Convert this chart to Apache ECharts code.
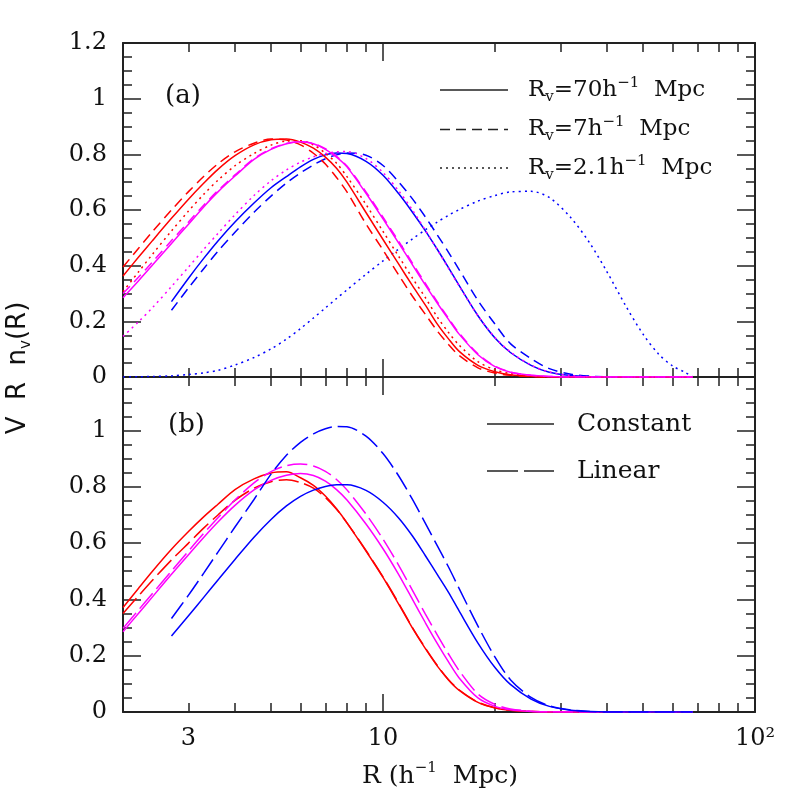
<!DOCTYPE html>
<html>
<head>
<meta charset="utf-8">
<script src="https://cdn.jsdelivr.net/npm/echarts@6/dist/echarts.min.js"></script>
<style>
html,body{margin:0;padding:0;background:#fff}
#chart{width:797px;height:797px}
</style>
</head>
<body>
<div id="chart"></div>
<script>
// shared radius grid (h^-1 Mpc)
var R = [2, 2.2, 2.4, 2.7, 3, 3.3, 3.6, 4, 4.5, 5, 5.5, 6, 6.5, 7, 7.5, 8, 9, 10, 11, 12,
         13, 14, 15, 16, 18, 20, 22, 25, 28, 32, 36, 40, 45, 50, 55, 60, 65, 68];

// panel (a)
var aRedSolid  = [0.363,0.43,0.49,0.57,0.639,0.697,0.746,0.795,0.834,0.852,0.855,0.844,0.822,0.79,0.75,0.70,0.591,0.494,0.407,0.328,0.258,0.19,0.137,0.093,0.042,0.019,0.008,0.002,0,0,0,0,0,0,0,0,0,0];
var aRedDash   = [0.395,0.462,0.522,0.60,0.666,0.721,0.766,0.809,0.84,0.855,0.851,0.834,0.804,0.765,0.717,0.665,0.55,0.456,0.368,0.29,0.225,0.165,0.117,0.078,0.033,0.014,0.006,0.0015,0,0,0,0,0,0,0,0,0,0];
var aRedDot    = [0.307,0.377,0.441,0.525,0.596,0.657,0.707,0.759,0.803,0.833,0.848,0.849,0.834,0.804,0.768,0.72,0.62,0.523,0.435,0.355,0.285,0.215,0.16,0.115,0.055,0.026,0.012,0.004,0.001,0,0,0,0,0,0,0,0,0];
var aMagSolid  = [0.285,0.345,0.402,0.48,0.549,0.612,0.665,0.722,0.782,0.818,0.838,0.845,0.838,0.818,0.79,0.755,0.66,0.568,0.483,0.403,0.33,0.265,0.207,0.155,0.08,0.037,0.017,0.006,0.002,0,0,0,0,0,0,0,0,0];
var aMagDash   = [0.30,0.358,0.413,0.49,0.557,0.618,0.67,0.726,0.785,0.82,0.839,0.845,0.839,0.82,0.793,0.758,0.665,0.574,0.489,0.409,0.336,0.27,0.211,0.159,0.083,0.039,0.018,0.006,0.002,0,0,0,0,0,0,0,0,0];
var aMagDot    = [0.146,0.198,0.249,0.325,0.395,0.459,0.516,0.583,0.652,0.705,0.744,0.772,0.791,0.803,0.809,0.81,0.785,0.735,0.67,0.60,0.527,0.457,0.39,0.328,0.22,0.142,0.09,0.043,0.018,0.005,0.001,0,0,0,0,0,0,0];
var aBlueSolid = [null,null,null,0.271,0.355,0.427,0.489,0.557,0.625,0.68,0.72,0.755,0.782,0.798,0.805,0.803,0.775,0.725,0.66,0.592,0.525,0.458,0.393,0.33,0.22,0.14,0.088,0.042,0.017,0.005,0.001,0,0,0,0,0,0,0];
var aBlueDash  = [null,null,null,0.24,0.32,0.39,0.452,0.52,0.592,0.65,0.697,0.733,0.762,0.784,0.798,0.805,0.797,0.76,0.702,0.64,0.575,0.51,0.448,0.387,0.275,0.19,0.12,0.066,0.03,0.01,0.003,0.001,0,0,0,0,0,0];
var aBlueDot   = [0,0.001,0.002,0.004,0.009,0.015,0.024,0.043,0.07,0.101,0.136,0.174,0.212,0.248,0.282,0.313,0.369,0.417,0.459,0.496,0.529,0.557,0.581,0.601,0.632,0.652,0.665,0.667,0.645,0.572,0.48,0.378,0.254,0.154,0.083,0.04,0.016,0];

// panel (b)
var bRedSolid  = [0.371,0.439,0.5,0.578,0.641,0.694,0.738,0.79,0.828,0.849,0.853,0.832,0.805,0.767,0.722,0.672,0.572,0.478,0.385,0.298,0.225,0.163,0.114,0.078,0.034,0.014,0.006,0.0015,0,0,0,0,0,0,0,0,0,0];
var bRedDash   = [0.35,0.412,0.468,0.54,0.6,0.654,0.70,0.752,0.795,0.818,0.825,0.815,0.795,0.762,0.72,0.672,0.574,0.48,0.388,0.30,0.227,0.165,0.115,0.079,0.035,0.015,0.006,0.0015,0,0,0,0,0,0,0,0,0,0];
var bMagSolid  = [0.285,0.35,0.409,0.489,0.559,0.621,0.675,0.734,0.789,0.823,0.841,0.847,0.84,0.82,0.79,0.753,0.668,0.58,0.49,0.40,0.317,0.243,0.178,0.122,0.05,0.02,0.008,0.002,0,0,0,0,0,0,0,0,0,0];
var bMagDash   = [0.297,0.362,0.421,0.501,0.572,0.635,0.69,0.753,0.814,0.854,0.875,0.881,0.874,0.855,0.826,0.789,0.703,0.614,0.523,0.432,0.348,0.273,0.206,0.148,0.064,0.027,0.011,0.003,0.001,0,0,0,0,0,0,0,0,0];
var bBlueSolid = [null,null,null,0.27,0.342,0.408,0.469,0.542,0.621,0.684,0.732,0.766,0.788,0.801,0.807,0.807,0.787,0.745,0.69,0.625,0.555,0.488,0.425,0.36,0.245,0.158,0.098,0.046,0.02,0.006,0.0015,0,0,0,0,0,0,0];
var bBlueDash  = [null,null,null,0.332,0.415,0.494,0.568,0.657,0.755,0.845,0.912,0.958,0.988,1.006,1.014,1.013,0.98,0.918,0.84,0.755,0.67,0.59,0.515,0.44,0.305,0.195,0.115,0.052,0.022,0.007,0.002,0,0,0,0,0,0,0];

// ticks
var xMajorTicks = [10, 100];
var xMinorTicks = [3, 4, 5, 6, 7, 8, 9, 20, 30, 40, 50, 60, 70, 80, 90];
var xTickLabels = [3, 10, 100];

var AX = '#222';
var SERIF = '"DejaVu Serif", serif';
var SANS = '"DejaVu Sans", sans-serif';
var SOLID = 'solid', DASH = [10, 6], DOT = [2, 4], LONG = [20, 6];

function pairs(vals) {
    return R.map(function (r, i) { return [r, vals[i]]; })
            .filter(function (p) { return p[1] != null; });
}

function xAx(grid, pos, ticks, len, lineShow, labels) {
    return {
        type: 'log', logBase: 10, gridIndex: grid, position: pos, min: 2, max: 100,
        axisLine: {show: lineShow, onZero: false, lineStyle: {color: AX, width: 2}},
        axisTick: {show: true, inside: true, length: len, customValues: ticks,
                   lineStyle: {color: AX, width: 1.5}},
        axisLabel: labels ? {
            show: true, customValues: xTickLabels, margin: 15,
            color: '#111', fontFamily: SERIF, fontSize: 24,
            formatter: function (v) { return v == 100 ? '10\u00b2' : String(v); }
        } : {show: false},
        splitLine: {show: false}
    };
}

function yAx(grid, pos, max, interval, len, lineShow, labels) {
    return {
        type: 'value', gridIndex: grid, position: pos, min: 0, max: max, interval: interval,
        axisLine: {show: lineShow, onZero: false, lineStyle: {color: AX, width: 2}},
        axisTick: {show: true, inside: true, length: len, lineStyle: {color: AX, width: 1.5}},
        axisLabel: labels ? {
            show: true, margin: 16, color: '#111', fontFamily: SERIF, fontSize: 24,
            showMaxLabel: grid === 0
        } : {show: false},
        splitLine: {show: false}
    };
}

function line(xi, vals, color, type) {
    return {
        type: 'line', xAxisIndex: xi, yAxisIndex: xi, data: pairs(vals),
        symbol: 'none', smooth: 0.3, silent: true,
        lineStyle: {color: color, width: 1.5, type: type},
        itemStyle: {color: color}
    };
}

var RED = '#ff0000', MAG = '#ff00ff', BLUE = '#0000ff';

var xAxes = [
    xAx(0, 'bottom', xMajorTicks, 18, true, false),
    xAx(0, 'bottom', xMinorTicks, 9, false, false),
    xAx(0, 'top', xMajorTicks, 18, true, false),
    xAx(0, 'top', xMinorTicks, 9, false, false),
    xAx(1, 'bottom', xMajorTicks, 18, true, true),
    xAx(1, 'bottom', xMinorTicks, 9, false, false),
    xAx(1, 'top', xMajorTicks, 18, true, false),
    xAx(1, 'top', xMinorTicks, 9, false, false)
];
var yAxes = [
    yAx(0, 'left', 1.2, 0.2, 18, true, true),
    yAx(0, 'left', 1.2, 0.05, 9, false, false),
    yAx(0, 'right', 1.2, 0.2, 18, true, false),
    yAx(0, 'right', 1.2, 0.05, 9, false, false),
    yAx(1, 'left', 1.19, 0.2, 18, true, true),
    yAx(1, 'left', 1.19, 0.05, 9, false, false),
    yAx(1, 'right', 1.19, 0.2, 18, true, false),
    yAx(1, 'right', 1.19, 0.05, 9, false, false)
];

function rich(size, family) {
    return {
        m: {fontFamily: family, fontSize: size, lineHeight: size + 6, fill: '#111'},
        s: {fontFamily: family, fontSize: 15, lineHeight: 15, verticalAlign: 'bottom', fill: '#111'},
        p: {fontFamily: family, fontSize: 15, lineHeight: 15, verticalAlign: 'top', fill: '#111'}
    };
}

function txt(x, y, text, size, align, family, rotation) {
    return {
        type: 'text', x: x, y: y, silent: true, rotation: rotation || 0,
        style: {text: text, rich: rich(size, family || SERIF), fill: '#111',
                align: align, textAlign: align, verticalAlign: 'middle', textVerticalAlign: 'middle'}
    };
}

function seg(x1, x2, y, dash) {
    return {type: 'line', silent: true, shape: {x1: x1, y1: y, x2: x2, y2: y},
            style: {stroke: '#222', lineWidth: 1.5, lineDash: dash}};
}

var chart = echarts.init(document.getElementById('chart'), null, {renderer: 'canvas'});
chart.setOption({
    animation: false,
    backgroundColor: '#fff',
    grid: [
        {left: 123, top: 43, width: 632, height: 334},
        {left: 123, top: 377, width: 632, height: 335}
    ],
    xAxis: xAxes,
    yAxis: yAxes,
    series: [
        line(0, aBlueSolid, BLUE, SOLID),
        line(0, aBlueDash, BLUE, DASH),
        line(0, aBlueDot, BLUE, DOT),
        line(0, aRedSolid, RED, SOLID),
        line(0, aRedDash, RED, DASH),
        line(0, aRedDot, RED, DOT),
        line(0, aMagSolid, MAG, SOLID),
        line(0, aMagDash, MAG, DASH),
        line(0, aMagDot, MAG, DOT),
        line(4, bRedSolid, RED, SOLID),
        line(4, bRedDash, RED, LONG),
        line(4, bMagSolid, MAG, SOLID),
        line(4, bMagDash, MAG, LONG),
        line(4, bBlueSolid, BLUE, SOLID),
        line(4, bBlueDash, BLUE, LONG)
    ],
    graphic: [
        seg(440, 508, 90, null),
        seg(440, 508, 129.5, [10, 6]),
        seg(440, 508, 168, [2, 4]),
        txt(528, 90, '{m|R}{s|v}{m|=70h}{p|\u22121}{m|  Mpc}', 23, 'left'),
        txt(528, 129.5, '{m|R}{s|v}{m|=7h}{p|\u22121}{m|  Mpc}', 23, 'left'),
        txt(528, 168, '{m|R}{s|v}{m|=2.1h}{p|\u22121}{m|  Mpc}', 23, 'left'),
        seg(487, 554, 424, null),
        seg(487, 554, 471, [31, 6]),
        txt(577, 424, '{m|Constant}', 25, 'left'),
        txt(577, 471, '{m|Linear}', 25, 'left'),
        txt(165, 96, '{m|(a)}', 26, 'left'),
        txt(168, 425, '{m|(b)}', 26, 'left'),
        txt(440, 776, '{m|R (h}{p|\u22121}{m|  Mpc)}', 25, 'center'),
        txt(18, 368, '{m|V  R  n}{s|v}{m|(R)}', 26, 'center', SANS, Math.PI / 2)
    ]
});
</script>
</body>
</html>
